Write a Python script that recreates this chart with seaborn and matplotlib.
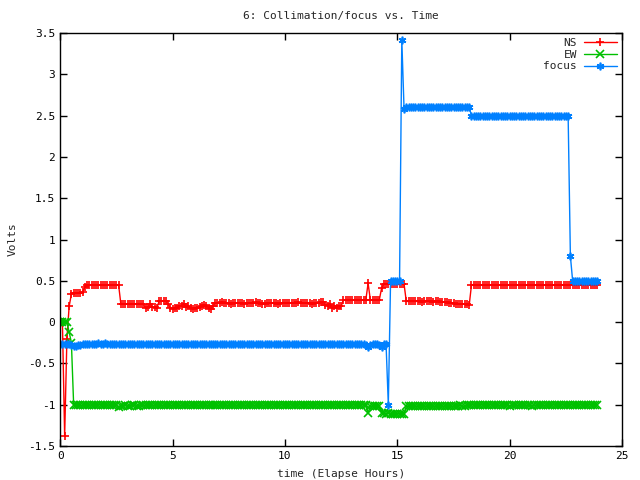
import numpy as np
import matplotlib
matplotlib.use("Agg")
import matplotlib.pyplot as plt
from matplotlib.ticker import FuncFormatter, MultipleLocator
import seaborn as sns

# readings every 0.1 h (240 samples, 0.0 .. 23.9 h)
ns_volts = [
    0.00, 0.00, -1.38, -0.20, 0.19, 0.34, 0.35, 0.35, 0.35, 0.35,
    0.37, 0.42, 0.45, 0.45, 0.45, 0.45, 0.45, 0.45, 0.45, 0.45,
    0.45, 0.45, 0.45, 0.45, 0.45, 0.45, 0.45, 0.22, 0.22, 0.22,
    0.22, 0.22, 0.22, 0.22, 0.22, 0.22, 0.22, 0.22, 0.17, 0.18,
    0.22, 0.18, 0.18, 0.17, 0.25, 0.26, 0.25, 0.25, 0.22, 0.17,
    0.16, 0.17, 0.17, 0.20, 0.20, 0.22, 0.18, 0.20, 0.17, 0.16,
    0.17, 0.17, 0.18, 0.20, 0.21, 0.20, 0.17, 0.16, 0.20, 0.23,
    0.23, 0.23, 0.24, 0.23, 0.23, 0.23, 0.22, 0.23, 0.23, 0.23,
    0.23, 0.23, 0.22, 0.23, 0.23, 0.23, 0.23, 0.24, 0.23, 0.23,
    0.22, 0.22, 0.23, 0.23, 0.23, 0.23, 0.23, 0.22, 0.23, 0.23,
    0.23, 0.23, 0.23, 0.23, 0.23, 0.23, 0.24, 0.23, 0.23, 0.23,
    0.23, 0.23, 0.22, 0.23, 0.23, 0.23, 0.24, 0.24, 0.21, 0.20,
    0.22, 0.17, 0.19, 0.17, 0.20, 0.19, 0.27, 0.27, 0.27, 0.27,
    0.27, 0.27, 0.27, 0.27, 0.27, 0.27, 0.27, 0.47, 0.27, 0.27,
    0.27, 0.27, 0.27, 0.41, 0.46, 0.46, 0.46, 0.46, 0.46, 0.46,
    0.46, 0.46, 0.46, 0.46, 0.25, 0.25, 0.25, 0.25, 0.25, 0.25,
    0.25, 0.24, 0.25, 0.25, 0.25, 0.25, 0.24, 0.25, 0.25, 0.24,
    0.24, 0.24, 0.24, 0.23, 0.23, 0.23, 0.22, 0.22, 0.22, 0.22,
    0.22, 0.22, 0.21, 0.45, 0.45, 0.45, 0.45, 0.45, 0.45, 0.45,
    0.45, 0.45, 0.45, 0.45, 0.45, 0.45, 0.45, 0.45, 0.45, 0.45,
    0.45, 0.45, 0.45, 0.45, 0.45, 0.45, 0.45, 0.45, 0.45, 0.45,
    0.45, 0.45, 0.45, 0.45, 0.45, 0.45, 0.45, 0.45, 0.45, 0.45,
    0.45, 0.45, 0.45, 0.45, 0.45, 0.45, 0.45, 0.45, 0.45, 0.45,
    0.45, 0.45, 0.45, 0.45, 0.45, 0.45, 0.45, 0.45, 0.45, 0.45,
]

ew_volts = [
    0.00, 0.00, 0.00, 0.00, -0.12, -0.25, -1.00, -1.00, -1.00, -1.01,
    -1.01, -1.00, -1.00, -1.01, -1.00, -1.00, -1.00, -1.00, -1.00, -1.00,
    -1.00, -1.01, -1.00, -1.00, -1.01, -1.01, -1.03, -1.02, -1.02, -1.01,
    -1.02, -1.02, -1.01, -1.01, -1.02, -1.02, -1.01, -1.01, -1.01, -1.01,
    -1.01, -1.01, -1.01, -1.01, -1.01, -1.01, -1.01, -1.01, -1.01, -1.01,
    -1.01, -1.01, -1.01, -1.01, -1.01, -1.01, -1.01, -1.01, -1.01, -1.01,
    -1.01, -1.01, -1.01, -1.01, -1.01, -1.01, -1.01, -1.01, -1.01, -1.01,
    -1.01, -1.01, -1.01, -1.01, -1.01, -1.01, -1.01, -1.01, -1.01, -1.01,
    -1.01, -1.01, -1.01, -1.01, -1.01, -1.01, -1.01, -1.01, -1.01, -1.01,
    -1.01, -1.01, -1.01, -1.01, -1.00, -1.00, -1.00, -1.00, -1.00, -1.00,
    -1.00, -1.00, -1.00, -1.00, -1.00, -1.00, -1.00, -1.00, -1.00, -1.00,
    -1.00, -1.00, -1.00, -1.00, -1.00, -1.00, -1.00, -1.00, -1.00, -1.00,
    -1.00, -1.00, -1.00, -1.00, -1.00, -1.00, -1.00, -1.00, -1.00, -1.00,
    -1.00, -1.00, -1.00, -1.00, -1.00, -1.00, -1.00, -1.10, -1.02, -1.02,
    -1.02, -1.02, -1.02, -1.10, -1.10, -1.11, -1.10, -1.11, -1.11, -1.11,
    -1.11, -1.11, -1.11, -1.11, -1.02, -1.02, -1.02, -1.02, -1.02, -1.02,
    -1.02, -1.02, -1.02, -1.02, -1.02, -1.02, -1.02, -1.02, -1.02, -1.02,
    -1.02, -1.02, -1.02, -1.02, -1.02, -1.02, -1.02, -1.02, -1.01, -1.02,
    -1.02, -1.01, -1.00, -1.00, -1.00, -1.00, -1.00, -1.00, -1.00, -1.00,
    -1.00, -1.00, -1.00, -1.00, -1.00, -1.01, -1.01, -1.01, -1.01, -1.01,
    -1.02, -1.01, -1.01, -1.01, -1.01, -1.01, -1.01, -1.01, -1.01, -1.01,
    -1.02, -1.01, -1.01, -1.01, -1.01, -1.01, -1.01, -1.00, -1.00, -1.00,
    -1.00, -1.00, -1.00, -1.00, -1.00, -1.00, -1.00, -1.00, -1.00, -1.00,
    -1.00, -1.00, -1.00, -1.00, -1.00, -1.00, -1.00, -1.00, -1.00, -1.00,
]

focus_volts = [
    -0.27, -0.27, -0.27, -0.27, -0.27, -0.28, -0.29, -0.29, -0.28, -0.28,
    -0.27, -0.27, -0.27, -0.27, -0.27, -0.26, -0.26, -0.25, -0.26, -0.26,
    -0.25, -0.26, -0.26, -0.26, -0.26, -0.26, -0.27, -0.27, -0.27, -0.27,
    -0.27, -0.27, -0.27, -0.27, -0.27, -0.27, -0.27, -0.27, -0.27, -0.27,
    -0.27, -0.27, -0.27, -0.27, -0.27, -0.27, -0.27, -0.27, -0.27, -0.27,
    -0.27, -0.27, -0.27, -0.27, -0.27, -0.27, -0.27, -0.27, -0.27, -0.27,
    -0.27, -0.27, -0.27, -0.27, -0.27, -0.27, -0.27, -0.27, -0.27, -0.27,
    -0.27, -0.27, -0.27, -0.27, -0.27, -0.27, -0.27, -0.27, -0.27, -0.27,
    -0.27, -0.27, -0.27, -0.27, -0.27, -0.27, -0.27, -0.27, -0.27, -0.27,
    -0.27, -0.27, -0.27, -0.27, -0.27, -0.27, -0.27, -0.27, -0.27, -0.27,
    -0.27, -0.27, -0.27, -0.27, -0.27, -0.27, -0.27, -0.27, -0.27, -0.27,
    -0.27, -0.27, -0.27, -0.27, -0.27, -0.27, -0.27, -0.27, -0.27, -0.27,
    -0.27, -0.27, -0.27, -0.27, -0.27, -0.27, -0.27, -0.27, -0.27, -0.27,
    -0.27, -0.27, -0.27, -0.27, -0.27, -0.27, -0.28, -0.30, -0.28, -0.27,
    -0.27, -0.27, -0.28, -0.30, -0.27, -0.27, -1.00, 0.50, 0.50, 0.50,
    0.50, 0.50, 3.42, 2.58, 2.60, 2.60, 2.60, 2.60, 2.60, 2.60,
    2.60, 2.60, 2.60, 2.60, 2.60, 2.60, 2.60, 2.60, 2.60, 2.60,
    2.60, 2.60, 2.60, 2.60, 2.60, 2.60, 2.60, 2.60, 2.60, 2.60,
    2.60, 2.60, 2.60, 2.50, 2.50, 2.50, 2.50, 2.50, 2.50, 2.50,
    2.50, 2.50, 2.50, 2.50, 2.50, 2.50, 2.50, 2.50, 2.50, 2.50,
    2.50, 2.50, 2.50, 2.50, 2.50, 2.50, 2.50, 2.50, 2.50, 2.50,
    2.50, 2.50, 2.50, 2.50, 2.50, 2.50, 2.50, 2.50, 2.50, 2.50,
    2.50, 2.50, 2.50, 2.50, 2.50, 2.50, 2.50, 0.80, 0.50, 0.50,
    0.50, 0.50, 0.50, 0.50, 0.50, 0.50, 0.50, 0.50, 0.50, 0.50,
]

hours = [i / 10 for i in range(len(ns_volts))]

series = [
    ("NS", ns_volts, "#ff0000", "+"),
    ("EW", ew_volts, "#00c000", "x"),
    ("focus", focus_volts, "#0080ff", (6, 2, 0)),
]

sns.set_style("ticks")
plt.rcParams["font.family"] = ["DejaVu Sans Mono", "DejaVu Sans"]
plt.rcParams["font.size"] = 8

fig = plt.figure(figsize=(6.4, 4.8), dpi=100)
ax = fig.add_axes([0.094, 0.071, 0.878, 0.860])

for name, vals, col, mk in series:
    sns.lineplot(x=hours, y=vals, ax=ax, color=col, marker=mk, markersize=5.5,
                 markeredgecolor=col, markeredgewidth=1.2, linewidth=1,
                 label=name, estimator=None)

ax.set_xlim(0, 25)
ax.set_ylim(-1.5, 3.5)
ax.xaxis.set_major_locator(MultipleLocator(5))
ax.yaxis.set_major_locator(MultipleLocator(0.5))
ax.yaxis.set_major_formatter(FuncFormatter(lambda v, p: f"{v:g}"))
ax.tick_params(direction="in", top=True, right=True, length=5, width=1,
               labelsize=8, colors="black")
for s in ax.spines.values():
    s.set_color("black")
    s.set_linewidth(1)

ax.set_title("6: Collimation/focus vs. Time", fontsize=8, pad=10)
ax.set_xlabel("time (Elapse Hours)", fontsize=8, labelpad=6)
ax.set_ylabel("Volts", fontsize=8, labelpad=8)

ax.legend(loc="upper right", frameon=False, markerfirst=False, fontsize=8,
          handlelength=3.0, labelspacing=0.15, borderaxespad=0.05,
          handletextpad=0.6)

fig.savefig("out.png", dpi=100)
